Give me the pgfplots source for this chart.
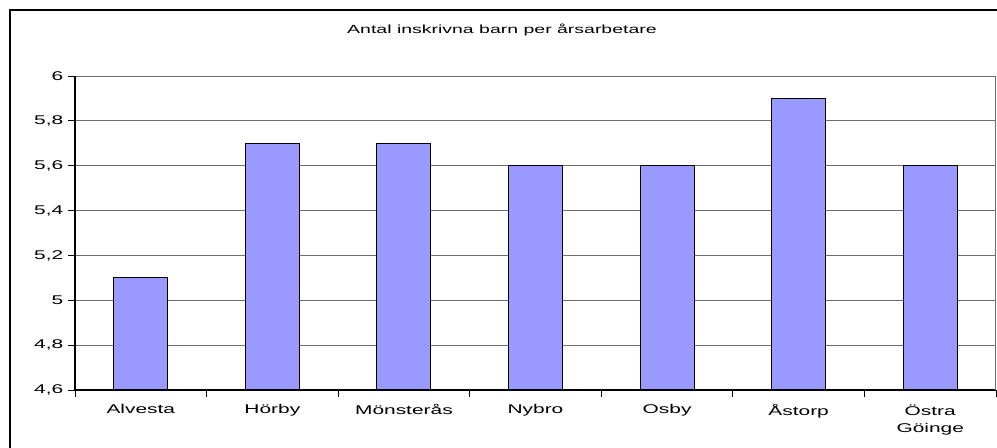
\documentclass[border=0pt]{standalone}
\usepackage{pgfplots}
\pgfplotsset{compat=1.18}
\usepackage{fontspec}
\setmainfont{Liberation Sans}[FakeStretch=1.65]
\definecolor{barfill}{RGB}{153,153,255}
\definecolor{gridgray}{RGB}{110,110,110}
\begin{document}
\begin{tikzpicture}[x=0.75pt,y=0.75pt]
\useasboundingbox (0,0) rectangle (997,448);
\fill[white] (0,0) rectangle (997,448);
\draw[black,line width=0.9pt] (10,-10) -- (10,438) -- (1010,438);
\node[font=\fontsize{8.85pt}{10pt}\selectfont] at (502,418) {Antal inskrivna barn per årsarbetare};
\begin{axis}[
  at={(56.25pt,43.5pt)}, anchor=south west,
  scale only axis, width=690.75pt, height=235.5pt,
  xmin=-0.5, xmax=6.5, ymin=4.6, ymax=6,
  axis x line=bottom, axis y line=left,
  axis line style={-, black, line width=0.8pt},
  xtick={-0.5,0.5,...,6.5},
  x tick label as interval,
  xticklabels={Alvesta,Hörby,Mönsterås,Nybro,Osby,Åstorp,{Östra\\Göinge}},
  ytick={4.6,4.8,...,6.01},
  tick align=outside, major tick length=5.25pt,
  tick style={black, line width=0.6pt},
  ymajorgrids, grid style={gridgray, line width=0.6pt},
  /pgf/number format/assume math mode=true,
  /pgf/number format/use comma, /pgf/number format/fixed, /pgf/number format/precision=1,
  ticklabel style={font=\fontsize{9.5pt}{13pt}\selectfont},
  xticklabel style={align=center, yshift=-2.25pt},
  ybar, bar width=0.41,
]
\addplot[fill=barfill, draw=black, line width=0.8pt] coordinates {
  (0,5.1) (1,5.7) (2,5.7) (3,5.6) (4,5.6) (5,5.9) (6,5.6)
};
\draw[gridgray, line width=0.8pt] (rel axis cs:1,0) -- (rel axis cs:1,1);
\end{axis}
\end{tikzpicture}
\end{document}
